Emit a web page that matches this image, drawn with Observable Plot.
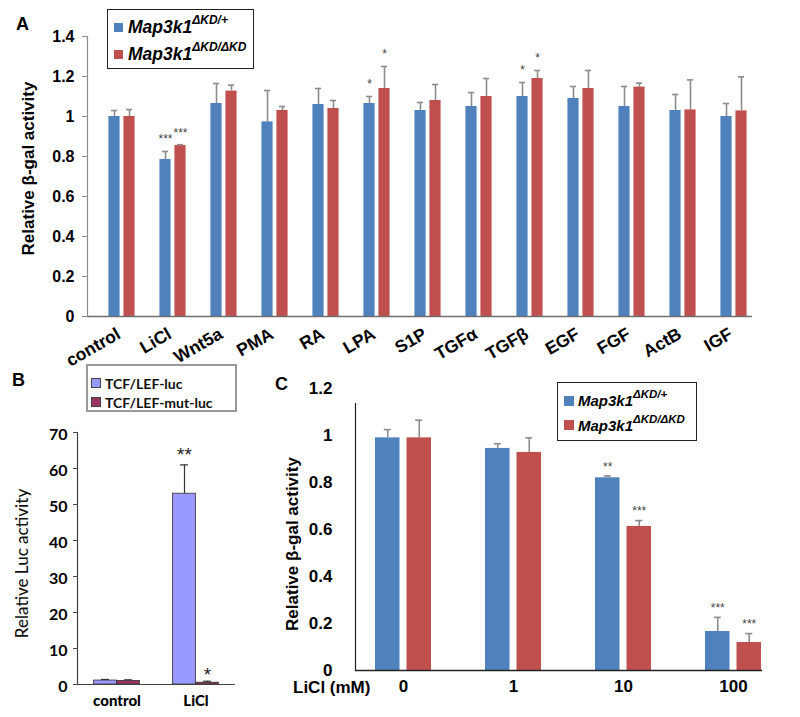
<!DOCTYPE html>
<html><head><meta charset="utf-8">
<script src="https://cdn.jsdelivr.net/npm/d3@7"></script>
<script src="https://cdn.jsdelivr.net/npm/@observablehq/plot@0.6"></script>
<style>
body{margin:0;background:#fff;}
#fig{position:relative;width:800px;height:717px;overflow:hidden;font-family:"Liberation Sans",Arial,sans-serif;color:#000;}
#fig > div.pl{position:absolute;}
.plab{position:absolute;font-weight:bold;font-size:18px;line-height:18px;}
.leg{position:absolute;background:#fff;box-sizing:border-box;}
.item{position:absolute;white-space:nowrap;display:flex;align-items:center;}
.sw{display:inline-block;box-sizing:border-box;}
.sup{position:relative;top:-0.55em;}
</style>
</head><body>
<div id="fig"></div>
<script>
// ---------- Panel A data ----------
const treatments = ["control","LiCl","Wnt5a","PMA","RA","LPA","S1P","TGFα","TGFβ","EGF","FGF","ActB","IGF"];
const genotypeBase = "Map3k1";
const genotypeSup = ["ΔKD/+", "ΔKD/ΔKD"];
const hetMeanA = [1.00, 0.785, 1.065, 0.973, 1.06, 1.065, 1.03, 1.05, 1.10, 1.09, 1.05, 1.03, 1.00];
const hetSdA   = [0.03, 0.04, 0.10, 0.157, 0.08, 0.035, 0.04, 0.07, 0.07, 0.06, 0.10, 0.08, 0.065];
const koMeanA  = [1.00, 0.855, 1.127, 1.03, 1.04, 1.14, 1.08, 1.10, 1.19, 1.14, 1.147, 1.033, 1.028];
const koSdA    = [0.035, 0.004, 0.03, 0.02, 0.04, 0.11, 0.08, 0.09, 0.04, 0.09, 0.02, 0.15, 0.17];
const hetStarsA = ["","***","","","","*","","","*","","","",""];
const koStarsA  = ["","***","","","","*","","","*","","","",""];
const yTicksA = [0, 0.2, 0.4, 0.6, 0.8, 1, 1.2, 1.4];
const yLabelA = "Relative β-gal activity";

// ---------- Panel B data ----------
const conditionsB = ["control","LiCl"];
const reportersB = ["TCF/LEF-luc","TCF/LEF-mut-luc"];
const lucMeanB = [1.1, 53];
const lucSdB   = [0.3, 8];
const mutMeanB = [1.0, 0.5];
const mutSdB   = [0.3, 0.4];
const lucStarsB = ["","**"];
const mutStarsB = ["","*"];
const yTicksB = [0,10,20,30,40,50,60,70];
const yLabelB = "Relative Luc activity";

// ---------- Panel C data ----------
const dosesC = ["0","1","10","100"];
const hetMeanC = [0.99, 0.945, 0.82, 0.166];
const hetSdC   = [0.035, 0.02, 0.008, 0.06];
const koMeanC  = [0.99, 0.928, 0.613, 0.119];
const koSdC    = [0.075, 0.062, 0.025, 0.038];
const hetStarsC = ["","","**","***"];
const koStarsC  = ["","","***","***"];
const yTicksC = [0,0.2,0.4,0.6,0.8,1,1.2];
const yLabelC = "Relative β-gal activity";
const xLabelC = "LiCl (mM)";

const blue = "#4f81bd", red = "#c0504d";
const lucColor = "#9999ff", mutColor = "#993366";

function rows(cats, means, sds, stars){
  return cats.map((c,i)=>({cat:c, mean:means[i], hi:means[i]+sds[i], star:stars[i]}));
}

function groupMarks(data, o){
  const c = o.bw/2, mid = (o.left+o.right)/2;
  return [
    Plot.barY(data, {x:"cat", y:"mean", fill:o.fill, stroke:o.stroke||"none", strokeWidth:o.strokeWidth||0,
      insetLeft:c+o.left, insetRight:c-o.right}),
    Plot.ruleX(data, {x:"cat", y1:"mean", y2:"hi", dx:mid, stroke:o.err, strokeWidth:o.errWidth}),
    Plot.tickY(data, {x:"cat", y:"hi", stroke:o.err, strokeWidth:o.errWidth,
      insetLeft:c+mid-o.cap, insetRight:c-mid-o.cap}),
    Plot.text(data.filter(d=>d.star), {x:"cat", y:"hi", text:"star", dx:mid, dy:o.starDy,
      fontSize:o.starSize, fill:o.starFill||"#444", fontFamily:o.font})
  ];
}

const fig = document.getElementById("fig");
function place(node, left, top){
  const w = document.createElement("div");
  w.className = "pl"; w.style.left = left+"px"; w.style.top = top+"px";
  w.appendChild(node); fig.appendChild(w);
}
const arial = "'Liberation Sans', Arial, sans-serif";
const calibri = "Lato, 'Open Sans', sans-serif";

// ---------- Panel A ----------
const bwA = (764-90)/treatments.length;
const plotA = Plot.plot({
  width: 800, height: 370,
  marginLeft: 87, marginRight: 48, marginTop: 36, marginBottom: 54,
  style: {fontFamily: arial, background: "transparent", overflow: "visible", color: "#000"},
  x: {domain: treatments, range: [90, 764], padding: 0, axis: null},
  y: {domain: [0, 1.4]},
  marks: [
    ...groupMarks(rows(treatments, hetMeanA, hetSdA, hetStarsA), {bw:bwA, left:-13.5, right:-1.5, fill:blue, err:"#8c8c8c", errWidth:1.6, cap:3.5, starDy:-12, starSize:12, font:arial}),
    ...groupMarks(rows(treatments, koMeanA, koSdA, koStarsA), {bw:bwA, left:1.5, right:13.5, fill:red, err:"#8c8c8c", errWidth:1.6, cap:3.5, starDy:-12, starSize:12, font:arial}),
    Plot.ruleY([0], {stroke:"#6f6f6f", strokeWidth:1.3}),
    Plot.frame({anchor:"left", stroke:"#8c8c8c", strokeWidth:1.2}),
    Plot.axisY({ticks: yTicksA, tickFormat: d3.format("~g"), tickSize: 5, tickPadding: 8, fontSize: 16, fontWeight: "bold", stroke: "#8c8c8c", label: null}),
    Plot.text(treatments, {x: d=>d, frameAnchor: "bottom", text: d=>d, rotate: -30, textAnchor: "end", lineAnchor: "middle", dx: -3, dy: 16, fontSize: 17.5, fontWeight: "bold"}),
    Plot.text([yLabelA], {frameAnchor:"left", text:d=>d, rotate:-90, textAnchor:"middle", lineAnchor:"middle", dx:-59, dy:-8, fontSize:17, fontWeight:"bold"})
  ]
});
place(plotA, 0, 0);

// ---------- Panel B ----------
const bwB = (235-77)/conditionsB.length;
const plotB = Plot.plot({
  width: 250, height: 297,
  marginLeft: 77, marginRight: 15, marginTop: 12, marginBottom: 33,
  style: {fontFamily: calibri, background: "transparent", overflow: "visible", color: "#000"},
  x: {domain: conditionsB, padding: 0},
  y: {domain: [0, 70]},
  marks: [
    ...groupMarks(rows(conditionsB, lucMeanB, lucSdB, lucStarsB), {bw:bwB, left:-23, right:0, fill:lucColor, stroke:"#333", strokeWidth:0.8, err:"#333", errWidth:1.2, cap:4, starDy:-10, starSize:19, starFill:"#222", font:arial}),
    ...groupMarks(rows(conditionsB, mutMeanB, mutSdB, mutStarsB), {bw:bwB, left:0, right:23, fill:mutColor, stroke:"#333", strokeWidth:0.8, err:"#333", errWidth:1.2, cap:4, starDy:-6, starSize:19, starFill:"#222", font:arial}),
    Plot.ruleY([0], {stroke:"#444", strokeWidth:1.2}),
    Plot.frame({anchor:"left", stroke:"#444", strokeWidth:1.2}),
    Plot.axisY({ticks: yTicksB, tickSize: 4, fill: "none", stroke: "#444", label: null}),
    Plot.text(yTicksB, {y: d=>d, frameAnchor: "left", text: d=>String(d), textAnchor: "end", dx: -10, dy: 2, fontSize: 16, fontWeight: "bold", fill: "#000", fontFamily: calibri}),
    Plot.axisX({tickSize: 0, tickPadding: 11, fontSize: 15, fontWeight: 900, label: null}),
    Plot.text([yLabelB], {frameAnchor:"left", text:d=>d, rotate:-90, textAnchor:"middle", lineAnchor:"middle", dx:-55, dy:5, fontSize:17, fontWeight:500, fill:"#111"})
  ]
});
place(plotB, 0, 420);

// ---------- Panel C ----------
const bwC = (788-348)/dosesC.length;
const plotC = Plot.plot({
  width: 550, height: 337,
  marginLeft: 105, marginRight: 38, marginTop: 23, marginBottom: 47,
  style: {fontFamily: arial, background: "transparent", overflow: "visible", color: "#000"},
  x: {domain: dosesC, range: [98, 538], padding: 0},
  y: {domain: [0, 1.2], range: [290, 8]},
  marks: [
    ...groupMarks(rows(dosesC, hetMeanC, hetSdC, hetStarsC), {bw:bwC, left:-28, right:-3.5, fill:blue, err:"#8c8c8c", errWidth:1.6, cap:3.5, starDy:-9, starSize:12, font:arial}),
    ...groupMarks(rows(dosesC, koMeanC, koSdC, koStarsC), {bw:bwC, left:3.5, right:28, fill:red, err:"#8c8c8c", errWidth:1.6, cap:3.5, starDy:-9, starSize:12, font:arial}),
    Plot.ruleY([0], {stroke:"#222", strokeWidth:1.3}),
    Plot.frame({anchor:"left", stroke:"#222", strokeWidth:1.2}),
    Plot.axisY({ticks: yTicksC, tickFormat: d3.format("~g"), tickSize: 0, tickPadding: 23, fontSize: 17, fontWeight: "bold", label: null}),
    Plot.axisX({tickSize: 0, tickPadding: 9, fontSize: 17, fontWeight: "bold", label: null}),
    Plot.text([yLabelC], {frameAnchor:"left", text:d=>d, rotate:-90, textAnchor:"middle", lineAnchor:"middle", dx:-63, dy:7, fontSize:17, fontWeight:"bold"})
  ]
});
place(plotC, 250, 380);

// ---------- HTML: panel letters, legends, LiCl label ----------
function addDiv(cls, css, html){
  const d = document.createElement("div");
  d.className = cls; d.style.cssText = css; if (html != null) d.innerHTML = html;
  fig.appendChild(d); return d;
}
addDiv("plab", "left:16px;top:15px;font-size:18px;", "A");
addDiv("plab", "left:12px;top:371px;font-size:18px;", "B");
addDiv("plab", "left:275px;top:375px;font-size:18px;", "C");
addDiv("plab", "left:293px;top:679px;font-size:17px;", xLabelC);

function genotypeLegend(left, top, w, h, size, supSize, sw, swGap, tops){
  const box = addDiv("leg", `left:${left}px;top:${top}px;width:${w}px;height:${h}px;border:1.3px solid #222;`);
  [blue, red].forEach((col, i) => {
    const it = document.createElement("div");
    it.className = "item";
    it.style.cssText = `left:6px;top:${tops[i]}px;height:20px;font-weight:bold;font-style:italic;font-size:${size}px;font-family:${arial};`;
    it.innerHTML = `<span class="sw" style="width:${sw}px;height:${sw}px;background:${col};margin-right:${swGap}px"></span>${genotypeBase}<span class="sup" style="font-size:${supSize}px">${genotypeSup[i]}</span>`;
    box.appendChild(it);
  });
}
genotypeLegend(107, 9, 147, 60, 17.5, 12, 9, 5, [7, 34]);
genotypeLegend(557, 382, 140, 59, 15, 11.5, 10, 4, [7.5, 32]);

// Legend B
const boxB = addDiv("leg", "left:86px;top:364px;width:151px;height:48px;border:2px solid #999;");
[lucColor, mutColor].forEach((col, i) => {
  const it = document.createElement("div");
  it.className = "item";
  it.style.cssText = `left:3px;top:${[8,27][i]}px;height:18px;font-weight:bold;font-size:14px;font-family:${calibri};color:#111;`;
  it.innerHTML = `<span class="sw" style="width:10px;height:10px;background:${col};border:1px solid #444;margin-right:4px"></span>${reportersB[i]}`;
  boxB.appendChild(it);
});
</script>
</body></html>
